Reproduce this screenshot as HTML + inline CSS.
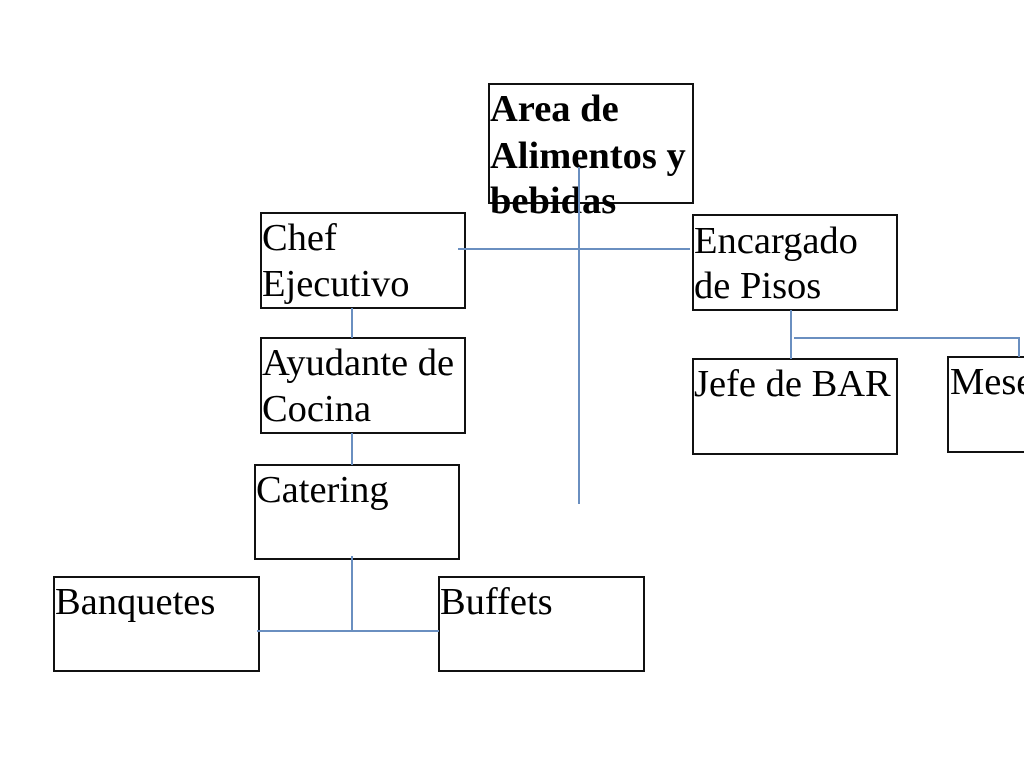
<!DOCTYPE html>
<html><head><style>html,body{margin:0;padding:0;background:#fff;}svg{display:block}</style></head>
<body>
<svg width="1024" height="768" xmlns="http://www.w3.org/2000/svg" font-family="Liberation Serif, serif" font-size="38.5">
<rect width="1024" height="768" fill="#fff"/>
<g stroke="#111" stroke-width="2" fill="none">
<rect x="489" y="84" width="204" height="119"/>
<rect x="261" y="213" width="204" height="95"/>
<rect x="693" y="215" width="204" height="95"/>
<rect x="261" y="338" width="204" height="95"/>
<rect x="693" y="359" width="204" height="95"/>
<rect x="948" y="357" width="90" height="95"/>
<rect x="255" y="465" width="204" height="94"/>
<rect x="54" y="577" width="205" height="94"/>
<rect x="439" y="577" width="205" height="94"/>
</g>
<g fill="#000">
<text font-weight="bold" x="490" y="121">Area de</text>
<text font-weight="bold" x="490" y="168">Alimentos y</text>
<text font-weight="bold" x="490" y="213">bebidas</text>
<text x="262" y="250">Chef</text>
<text x="262" y="296">Ejecutivo</text>
<text x="694" y="253">Encargado</text>
<text x="694" y="298">de Pisos</text>
<text x="262" y="375">Ayudante de</text>
<text x="262" y="421">Cocina</text>
<text x="694" y="396">Jefe de BAR</text>
<text x="950" y="394">Mese</text>
<text x="256" y="502">Catering</text>
<text x="55" y="614">Banquetes</text>
<text x="440" y="614">Buffets</text>
</g>
<g stroke="#6a8fc0" stroke-width="2" fill="none">
<line x1="579" y1="167" x2="579" y2="504"/>
<line x1="458" y1="249" x2="690" y2="249"/>
<line x1="352" y1="308" x2="352" y2="338"/>
<line x1="352" y1="433" x2="352" y2="465"/>
<line x1="352" y1="556" x2="352" y2="631"/>
<line x1="257" y1="631" x2="439" y2="631"/>
<line x1="791" y1="310" x2="791" y2="359"/>
<polyline points="794,338 1019,338 1019,357"/>
</g>
</svg>
</body></html>
